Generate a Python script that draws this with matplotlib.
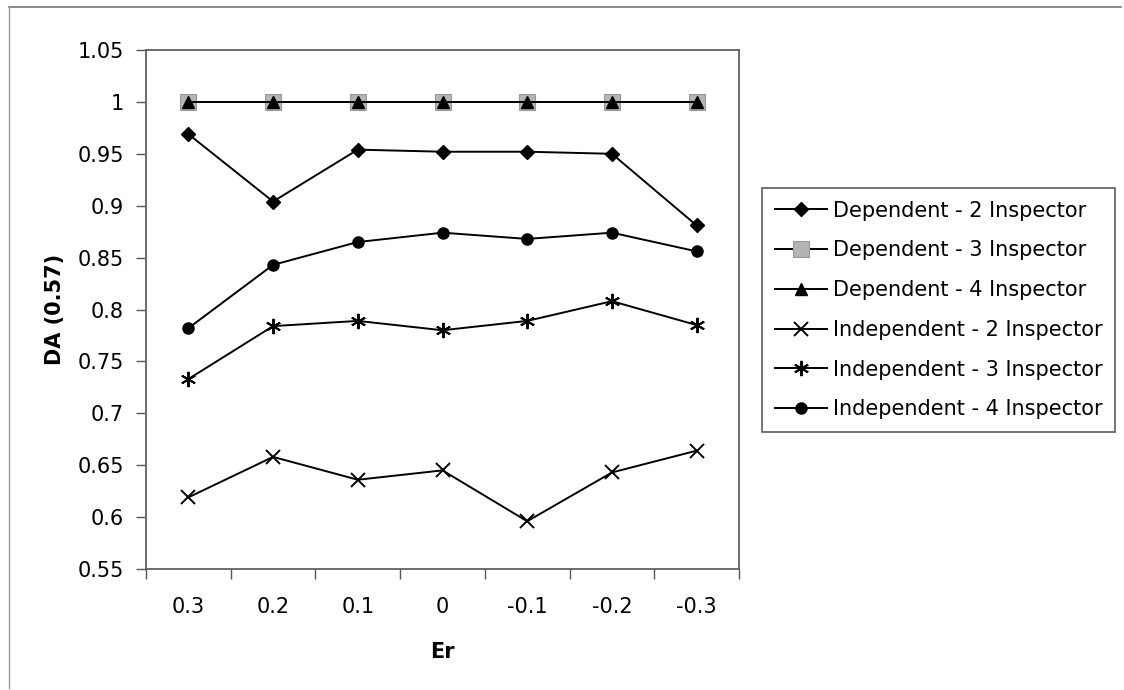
import matplotlib
matplotlib.use("Agg")
import matplotlib.pyplot as plt
from matplotlib.lines import Line2D
from matplotlib.ticker import FuncFormatter, MultipleLocator
import numpy as np

plt.rcParams['font.family'] = ['DejaVu Sans']

er_labels = ["0.3", "0.2", "0.1", "0", "-0.1", "-0.2", "-0.3"]

dep_2 = [0.969, 0.904, 0.954, 0.952, 0.952, 0.950, 0.881]
dep_3 = [1.0, 1.0, 1.0, 1.0, 1.0, 1.0, 1.0]
dep_4 = [1.0, 1.0, 1.0, 1.0, 1.0, 1.0, 1.0]
ind_2 = [0.619, 0.658, 0.636, 0.645, 0.596, 0.643, 0.664]
ind_3 = [0.733, 0.784, 0.789, 0.780, 0.789, 0.808, 0.785]
ind_4 = [0.782, 0.843, 0.865, 0.874, 0.868, 0.874, 0.856]

series_names = [
    "Dependent - 2 Inspector",
    "Dependent - 3 Inspector",
    "Dependent - 4 Inspector",
    "Independent - 2 Inspector",
    "Independent - 3 Inspector",
    "Independent - 4 Inspector",
]

fig = plt.figure(figsize=(11.24, 6.90), dpi=100)
ax = fig.add_axes([146 / 1124, 1 - 569 / 690, (739 - 146) / 1124, (569 - 50) / 690])

x = np.arange(len(er_labels))
lw = 1.4

ax.plot(x, dep_2, color='black', lw=lw, marker='D', ms=7.5, mfc='black', mec='black',
        label=series_names[0], zorder=3)
ax.plot(x, dep_3, color='black', lw=lw, marker='s', ms=11, mfc='#b4b4b4', mec='#9a9a9a',
        mew=0.8, label=series_names[1], zorder=3)
ax.plot(x, dep_4, color='black', lw=lw, marker='^', ms=8.5, mfc='black', mec='black',
        label=series_names[2], zorder=4)
ax.plot(x, ind_2, color='black', lw=lw, marker='x', ms=10, mew=1.4, mec='black',
        label=series_names[3], zorder=3)
ax.plot(x, ind_3, color='black', lw=lw, marker=(6, 2, 0), ms=11, mew=1.4, mec='black',
        label=series_names[4], zorder=3)
ax.plot(x, ind_4, color='black', lw=lw, marker='o', ms=8, mfc='black', mec='black',
        label=series_names[5], zorder=3)

ax.set_xlim(-0.5, len(er_labels) - 0.5)
ax.set_ylim(0.55, 1.05)

# Category boundaries carry the tick marks; labels sit at the centres
ax.set_xticks(np.arange(-0.5, len(er_labels), 1.0))
ax.set_xticklabels([])
ax.set_xticks(x, minor=True)
ax.set_xticklabels(er_labels, minor=True, fontsize=15)
ax.tick_params(axis='x', which='major', direction='out', length=7, width=1, color='#555555')
ax.tick_params(axis='x', which='minor', length=0, pad=20)

ax.yaxis.set_major_locator(MultipleLocator(0.05))
ax.yaxis.set_major_formatter(FuncFormatter(lambda v, p: f"{v:.2f}".rstrip('0').rstrip('.')))
ax.tick_params(axis='y', direction='out', length=7, width=1, color='#555555',
               labelsize=15, pad=9)

for s in ax.spines.values():
    s.set_color('#606060')
    s.set_linewidth(1.3)

ax.set_xlabel("Er", fontsize=15, fontweight='bold', va='center')
ax.xaxis.set_label_coords(0.5, (569 - 652) / 519)
ax.set_ylabel("DA (0.57)", fontsize=15, fontweight='bold', va='center')
ax.yaxis.set_label_coords((55 - 146) / 593, 0.5)

leg = fig.legend(
    loc='upper left',
    bbox_to_anchor=(762 / 1124, 1 - 188 / 690),
    frameon=True, fancybox=False, shadow=False,
    fontsize=15, handlelength=2.5, handletextpad=0.3,
    labelspacing=0.95, borderpad=0.6, borderaxespad=0,
)
leg.get_frame().set_edgecolor('#333333')
leg.get_frame().set_linewidth(1.2)

# Outer chart border (top and left edges)
fig.add_artist(Line2D([9 / 1124, 1121 / 1124], [1 - 7 / 690, 1 - 7 / 690],
                      transform=fig.transFigure, color='#777777', lw=1.2))
fig.add_artist(Line2D([9 / 1124, 9 / 1124], [1 - 7 / 690, 1 - 688 / 690],
                      transform=fig.transFigure, color='#999999', lw=1.0))

fig.savefig("out.png", dpi=100)
